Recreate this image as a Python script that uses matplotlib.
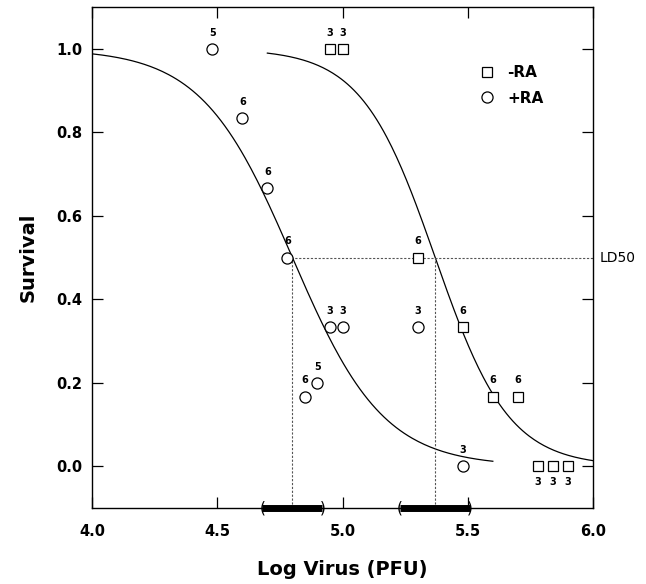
import numpy as np
import matplotlib
matplotlib.use("Agg")
import matplotlib.pyplot as plt

# -RA (squares)
minus_x = [4.95, 5.0, 5.3, 5.48, 5.6, 5.7, 5.78, 5.84, 5.9]
minus_y = [1.0, 1.0, 0.5, 0.333, 0.167, 0.167, 0.0, 0.0, 0.0]
minus_n = [3, 3, 6, 6, 6, 6, 3, 3, 3]

# +RA (circles)
plus_x = [4.48, 4.6, 4.7, 4.78, 4.95, 5.0, 4.85, 4.9, 5.3, 5.48]
plus_y = [1.0, 0.833, 0.667, 0.5, 0.333, 0.333, 0.167, 0.2, 0.333, 0.0]
plus_n = [5, 6, 6, 6, 3, 3, 6, 5, 3, 3]

# fitted logistic curves: LD50, slope, x range
plus_ld50, plus_slope, plus_range = 4.80, 5.5, (4.0, 5.6)
minus_ld50, minus_slope, minus_range = 5.37, 6.8, (4.7, 6.0)

# 95% confidence intervals of LD50
plus_ci = (4.68, 4.92)
minus_ci = (5.23, 5.51)

plt.rcParams['font.family'] = ['DejaVu Sans']
fig = plt.figure(figsize=(6.46, 5.84), dpi=100)
ax = fig.add_axes([0.1424, 0.130, 0.7756, 0.858])

for ld50, k, rng in [(plus_ld50, plus_slope, plus_range),
                     (minus_ld50, minus_slope, minus_range)]:
    xs = np.linspace(rng[0], rng[1], 200)
    ax.plot(xs, 1.0 / (1.0 + np.exp(k * (xs - ld50))), color='black', lw=0.9)

# LD50 guide lines
dot = dict(color='#555555', lw=0.8, linestyle=(0, (2, 1.5)))
ax.plot([plus_x[3], 6.0], [0.5, 0.5], **dot)
ax.plot([plus_ld50, plus_ld50], [-0.1, 0.5], **dot)
ax.plot([minus_ld50, minus_ld50], [-0.1, 0.5], **dot)
ax.text(6.025, 0.5, 'LD50', ha='left', va='center', fontsize=10)

ax.plot(minus_x, minus_y, 's', mfc='white', mec='black', ms=6.5, mew=0.9,
        label='-RA', zorder=5)
ax.plot(plus_x, plus_y, 'o', mfc='white', mec='black', ms=8, mew=0.9,
        label='+RA', zorder=5)

for x, y, n in zip(plus_x, plus_y, plus_n):
    ax.annotate(str(n), (x, y), xytext=(0, 8), textcoords='offset points',
                ha='center', va='bottom', fontsize=7, fontweight='bold')
for x, y, n in zip(minus_x, minus_y, minus_n):
    off = -8 if y == 0.0 else 8
    ax.annotate(str(n), (x, y), xytext=(0, off), textcoords='offset points',
                ha='center', va='top' if off < 0 else 'bottom',
                fontsize=7, fontweight='bold')

# confidence interval bars on x axis
for lo, hi in [plus_ci, minus_ci]:
    ax.plot([lo, hi], [-0.1, -0.1], color='black', lw=5, solid_capstyle='butt',
            clip_on=False, zorder=6)
    ax.text(lo, -0.1, '(', ha='center', va='center', fontsize=11,
            clip_on=False)
    ax.text(hi, -0.1, ')', ha='center', va='center', fontsize=11,
            clip_on=False)

ax.set_xlim(4.0, 6.0)
ax.set_ylim(-0.1, 1.1)
ax.set_xticks([4.0, 4.5, 5.0, 5.5, 6.0])
ax.set_yticks([0.0, 0.2, 0.4, 0.6, 0.8, 1.0])
ax.set_xticklabels(['4.0', '4.5', '5.0', '5.5', '6.0'], fontweight='bold')
ax.set_yticklabels(['0.0', '0.2', '0.4', '0.6', '0.8', '1.0'], fontweight='bold')
ax.tick_params(direction='in', length=8, width=0.9, labelsize=10.5,
               top=True, right=True)
ax.tick_params(axis='x', pad=11.5)
ax.tick_params(axis='y', pad=7)
for s in ax.spines.values():
    s.set_linewidth(1.0)

ax.set_xlabel('Log Virus (PFU)', fontsize=14, fontweight='bold', labelpad=15)
ax.set_ylabel('Survival', fontsize=14, fontweight='bold', labelpad=13)

ax.legend(loc='upper left', bbox_to_anchor=(0.746, 0.912), frameon=False,
          prop={'size': 11, 'weight': 'bold'}, handletextpad=0.8,
          labelspacing=0.7, handlelength=1.0)

fig.savefig('out.png', dpi=100)
